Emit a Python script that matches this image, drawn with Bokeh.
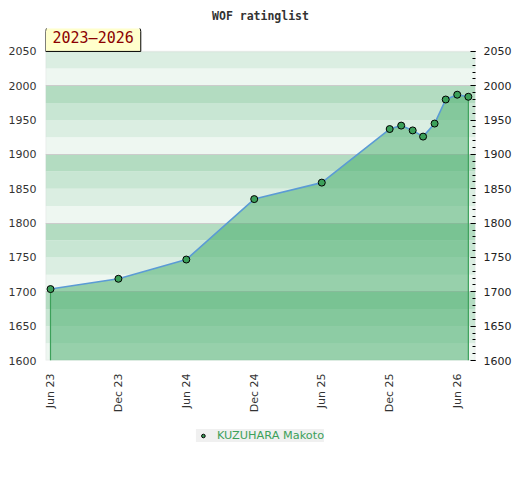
import math
import pandas as pd
from bokeh.plotting import figure
from bokeh.layouts import column
from bokeh.models import (ColumnDataSource, LinearAxis, SingleIntervalTicker, FixedTicker,
                          Range1d, BoxAnnotation, Label, Legend, LegendItem, DatetimeTickFormatter)
from bokeh.embed import file_html
from bokeh.resources import INLINE

title_text = "WOF ratinglist"
period_text = "2023–2026"
player = "KUZUHARA Makoto"

dates = ["2023-06-01", "2023-12-01", "2024-06-01", "2024-12-01", "2025-06-01",
         "2025-12-01", "2026-01-01", "2026-02-01", "2026-03-01", "2026-04-01",
         "2026-05-01", "2026-06-01", "2026-07-01"]
ratings = [1704, 1719, 1747, 1835, 1859, 1937, 1942, 1935, 1926, 1945, 1980, 1987, 1984]

tick_dates = ["2023-06-01", "2023-12-01", "2024-06-01", "2024-12-01",
              "2025-06-01", "2025-12-01", "2026-06-01"]
tick_labels = ["Jun 23", "Dec 23", "Jun 24", "Dec 24", "Jun 25", "Dec 25", "Jun 26"]

y_min, y_max = 1600, 2050


def to_ms(s):
    return int((pd.Timestamp(s) - pd.Timestamp("1970-01-01")) // pd.Timedelta("1ms"))


x_ms = [to_ms(d) for d in dates]
tick_ms = [to_ms(d) for d in tick_dates]
day = 86400000
px_per_day = 0.3711
x_start = x_ms[0] - 5 / px_per_day * day
x_end = x_ms[0] + (430 - 5) / px_per_day * day
px_per_unit = 310 / (y_max - y_min)
y_top = y_min + 333 / px_per_unit   # room above the plot area for the period tag

src = ColumnDataSource(data=dict(date=x_ms, rating=ratings))

p = figure(width=520, height=420, x_axis_type="datetime",
           x_range=Range1d(x_start, x_end), y_range=Range1d(y_min, y_top),
           output_backend="svg", toolbar_location=None,
           min_border_left=45, min_border_right=45, min_border_top=27, min_border_bottom=60)
p.background_fill_color = "white"
p.border_fill_color = "white"
p.outline_line_color = None

# background bands
band_colors = {0: "#eef7f1", 25: "#dbeee2", 50: "#c8e6d3", 75: "#b3dcc1"}
for lo in range(y_min, y_max, 25):
    p.add_layout(BoxAnnotation(bottom=lo, top=lo + 25, fill_color=band_colors[lo % 100],
                               fill_alpha=1.0, line_color=None, level="image"))

p.xgrid.visible = False
p.ygrid.ticker = SingleIntervalTicker(interval=100)
p.ygrid.bounds = (y_min, y_max)
p.ygrid.grid_line_color = "#cccccc"
p.ygrid.grid_line_width = 1

# plot-area border
p.add_layout(BoxAnnotation(bottom=y_min, top=y_max, fill_alpha=0, line_color="#cccccc",
                           line_width=1.5, level="underlay"))

# area
p.varea(x="date", y1=y_min, y2="rating", source=src, fill_color="#40aa66", fill_alpha=0.5)
p.segment(x0=[x_ms[0], x_ms[-1]], y0=[y_min, y_min], x1=[x_ms[0], x_ms[-1]],
          y1=[ratings[0], ratings[-1]], line_color="#3ca05a", line_width=1.2)
p.line(x="date", y="rating", source=src, line_color="#5b9bd5", line_width=1.6)
sc = p.scatter(x="date", y="rating", source=src, size=7, fill_color="#3ca05a",
               line_color="black", line_width=1)

# left axis
ya = p.yaxis[0]
ya.ticker = SingleIntervalTicker(interval=50)
ya.bounds = (y_min, y_max)
ya.major_tick_out = 0
ya.major_tick_in = 0
ya.minor_tick_out = 0
ya.minor_tick_in = 0
ya.axis_line_color = None
ya.major_label_standoff = 9
ya.major_label_text_font = "DejaVu Sans"
ya.major_label_text_font_size = "11px"
ya.major_label_text_color = "#333333"

# right axis
ra = LinearAxis(ticker=SingleIntervalTicker(interval=50, num_minor_ticks=5), bounds=(y_min, y_max))
ra.major_tick_in = 5
ra.major_tick_out = 0
ra.minor_tick_in = 3
ra.minor_tick_out = 0
ra.major_tick_line_color = "black"
ra.minor_tick_line_color = "black"
ra.axis_line_color = None
ra.major_label_standoff = 8
ra.major_label_text_font = "DejaVu Sans"
ra.major_label_text_font_size = "11px"
ra.major_label_text_color = "#222222"
p.add_layout(ra, "right")

# x axis
xa = p.xaxis[0]
xa.ticker = FixedTicker(ticks=tick_ms, minor_ticks=[])
xa.formatter = DatetimeTickFormatter(days="%b %y", months="%b %y", years="%b %y")
xa.major_label_overrides = {t: lab for t, lab in zip(tick_ms, tick_labels)}
xa.major_label_orientation = math.pi / 2
xa.major_tick_out = 0
xa.major_tick_in = 0
xa.minor_tick_out = 0
xa.minor_tick_in = 0
xa.axis_line_color = None
xa.major_label_standoff = 13
xa.major_label_text_font = "DejaVu Sans"
xa.major_label_text_font_size = "11px"
xa.major_label_text_color = "#333333"

# title
p.title.text = title_text
p.title.align = "center"
p.title.text_font = "DejaVu Sans Mono"
p.title.text_font_style = "bold"
p.title.text_font_size = "11.5px"
p.title.text_color = "#333333"
p.title.standoff = 12

# period tag
lbl = Label(x=0, x_units="screen", y=y_max, y_units="data", text=period_text,
            text_font="DejaVu Sans Mono", text_font_size="15px", text_color="#8b0000",
            text_align="left", text_baseline="bottom",
            background_fill_color="#ffffcc", border_line_color="black", border_line_width=1,
            padding=dict(top=4, right=7, bottom=4, left=7),
            border_radius=dict(top_left=6, top_right=6, bottom_right=0, bottom_left=0))
p.add_layout(lbl)

# legend strip
p2 = figure(width=520, height=60, x_range=Range1d(0, 1), y_range=Range1d(0, 1),
            output_backend="svg", toolbar_location=None, x_axis_location=None,
            y_axis_location=None, min_border_left=0, min_border_right=0,
            min_border_top=0, min_border_bottom=0)
p2.outline_line_color = None
p2.grid.visible = False
sc2 = p2.scatter(x="date", y="rating", source=src, size=7, fill_color="#3ca05a",
                 line_color="black", line_width=1)
legend = Legend(items=[LegendItem(label=player, renderers=[sc2])], orientation="horizontal",
                location="top_center", background_fill_color="#f0f0f0", background_fill_alpha=1,
                border_line_color=None, label_text_color="#3ca05a", label_text_font="DejaVu Sans",
                label_text_font_size="11.3px", padding=6, glyph_width=14, glyph_height=9,
                label_height=9, label_standoff=7, margin=9)
p2.add_layout(legend)

open("out.html", "w").write(file_html(column(p, p2, spacing=0), INLINE))
